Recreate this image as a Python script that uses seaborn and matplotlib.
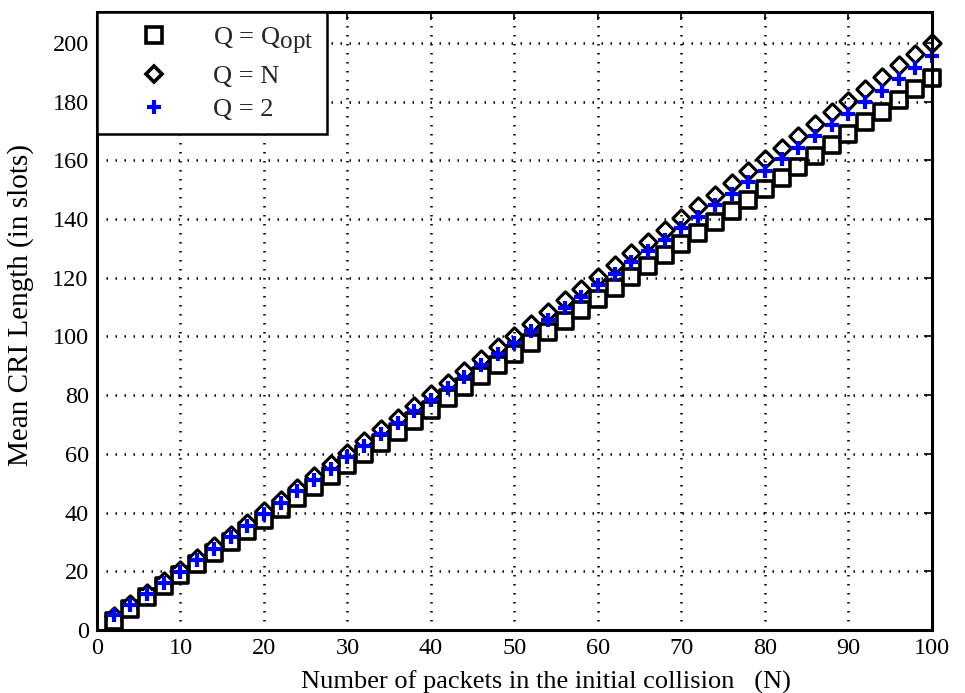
import matplotlib
matplotlib.use("Agg")
import matplotlib.pyplot as plt
import matplotlib._mathtext as mathtext_core
from matplotlib.lines import Line2D
import seaborn as sns
import pandas as pd

# Number of packets in the initial collision
n_packets = [2, 4, 6, 8, 10, 12, 14, 16, 18, 20, 22, 24, 26, 28, 30, 32, 34, 36, 38, 40,
             42, 44, 46, 48, 50, 52, 54, 56, 58, 60, 62, 64, 66, 68, 70, 72, 74, 76, 78, 80,
             82, 84, 86, 88, 90, 92, 94, 96, 98, 100]

# Mean CRI length (slots) for each splitting factor
cri_q_opt = [3.0, 7.2, 11.2, 15.0, 18.7, 22.5, 26.2, 30.0, 33.8, 37.5,
             41.3, 45.0, 48.8, 52.5, 56.3, 60.1, 63.8, 67.6, 71.3, 75.1,
             78.9, 82.6, 86.4, 90.1, 93.9, 97.7, 101.4, 105.2, 108.9, 112.7,
             116.5, 120.2, 124.0, 127.7, 131.5, 135.3, 139.0, 142.8, 146.5, 150.3,
             154.1, 157.8, 161.6, 165.3, 169.1, 172.9, 176.6, 180.4, 184.1, 187.9]
cri_q_n = [4.9, 8.7, 12.6, 16.6, 20.5, 24.5, 28.5, 32.4, 36.4, 40.4,
           44.4, 48.4, 52.4, 56.4, 60.4, 64.3, 68.3, 72.3, 76.3, 80.3,
           84.3, 88.3, 92.3, 96.3, 100.3, 104.3, 108.3, 112.3, 116.3, 120.3,
           124.3, 128.3, 132.3, 136.3, 140.3, 144.3, 148.3, 152.3, 156.3, 160.3,
           164.3, 168.3, 172.3, 176.3, 180.3, 184.3, 188.3, 192.3, 196.3, 200.0]
cri_q_2 = [5.0, 8.4, 12.2, 16.0, 19.9, 23.8, 27.7, 31.6, 35.5, 39.4,
           43.3, 47.2, 51.1, 55.0, 58.9, 62.8, 66.7, 70.6, 74.5, 78.4,
           82.3, 86.2, 90.1, 94.0, 97.9, 101.8, 105.7, 109.6, 113.5, 117.4,
           121.3, 125.2, 129.1, 133.0, 136.9, 140.8, 144.7, 148.6, 152.5, 156.4,
           160.3, 164.2, 168.1, 172.0, 175.9, 179.8, 183.7, 187.6, 191.5, 195.4]

legend_labels = [r"Q = Q$_\mathregular{opt}$", "Q = N", "Q = 2"]
x_ticks = list(range(0, 101, 10))
y_ticks = list(range(0, 201, 20))

sns.set_theme(style="white")
plt.rcParams["font.family"] = ["Liberation Serif", "DejaVu Serif"]
plt.rcParams["mathtext.fontset"] = "custom"
plt.rcParams["mathtext.rm"] = "Liberation Serif"
# keep subscripts nearly full size
mathtext_core.SHRINK_FACTOR = 0.95

df = pd.DataFrame({"N": n_packets, "opt": cri_q_opt, "qn": cri_q_n, "q2": cri_q_2})

fig = plt.figure(figsize=(9.65, 6.93), dpi=100)
ax = fig.add_axes([0.1005, 0.0909, 0.8653, 0.8918])

lw = 2.6
sq_s, dm_s = 118, 72
common = dict(ax=ax, legend=False, clip_on=False)
# outlines of squares and diamonds
sns.scatterplot(data=df, x="N", y="opt", marker="s", s=sq_s, facecolor="white",
                edgecolor="black", linewidth=lw, zorder=1, **common)
sns.scatterplot(data=df, x="N", y="qn", marker="D", s=dm_s, facecolor="white",
                edgecolor="black", linewidth=lw, zorder=1, **common)
# white interiors so overlapping outlines merge
sns.scatterplot(data=df, x="N", y="opt", marker="s", s=(sq_s ** 0.5 - lw) ** 2,
                color="white", linewidth=0, zorder=1.5, **common)
sns.scatterplot(data=df, x="N", y="qn", marker="D", s=(dm_s ** 0.5 - lw * 0.75) ** 2,
                color="white", linewidth=0, zorder=1.5, **common)
# Q = 2 crosses
sns.scatterplot(data=df, x="N", y="q2", marker="+", s=110, color="#0000ff",
                linewidth=3.0, zorder=3, **common)

ax.set_xlim(0, 100)
ax.set_ylim(0, 210.5)
ax.set_xticks(x_ticks)
ax.set_yticks(y_ticks)
ax.set_axisbelow(False)
ax.grid(True, linestyle=(0, (0.6, 3.0)), color="black", linewidth=1.8)
ax.tick_params(direction="in", length=6, width=1.2, top=True, right=True,
               labelsize=17.5, colors="black", pad=6)
for sp in ax.spines.values():
    sp.set_color("black")
    sp.set_linewidth(2.2)
    sp.set_zorder(5)

ax.set_xlabel("Number of packets in the initial collision   (N)", fontsize=19,
              color="black")
ax.set_ylabel("Mean CRI Length (in slots)", fontsize=21, color="black")
ax.xaxis.set_label_coords(0.538, -0.065)
ax.yaxis.set_label_coords(-0.076, 0.526)

handles = [
    Line2D([], [], marker="s", linestyle="none", markersize=11, markerfacecolor="white",
           markeredgecolor="black", markeredgewidth=lw),
    Line2D([], [], marker="D", linestyle="none", markersize=8.5, markerfacecolor="white",
           markeredgecolor="black", markeredgewidth=lw),
    Line2D([], [], marker="+", linestyle="none", markersize=10.5, color="#0000ff",
           markeredgewidth=3.0),
]
leg = ax.legend(handles, legend_labels, loc="upper left", bbox_to_anchor=(0, 1),
                borderaxespad=0, fontsize=19, frameon=True, fancybox=False,
                edgecolor="black", framealpha=1, handlelength=3.3, handletextpad=0.6,
                labelspacing=0.34, borderpad=0.5)
leg.get_frame().set_linewidth(1.8)
leg.set_zorder(6)

fig.savefig("out.png", dpi=100)
